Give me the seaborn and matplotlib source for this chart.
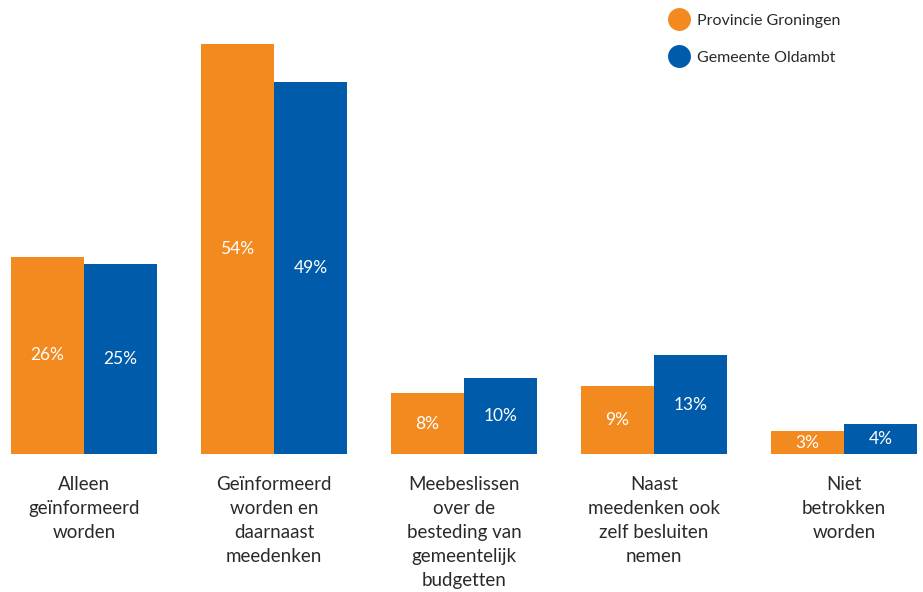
import matplotlib
matplotlib.use("Agg")
import matplotlib.pyplot as plt
from matplotlib.lines import Line2D
import seaborn as sns
import pandas as pd

categories = [
    "Alleen\ngeïnformeerd\nworden",
    "Geïnformeerd\nworden en\ndaarnaast\nmeedenken",
    "Meebeslissen\nover de\nbesteding van\ngemeentelijk\nbudgetten",
    "Naast\nmeedenken ook\nzelf besluiten\nnemen",
    "Niet\nbetrokken\nworden",
]
series_names = ["Provincie Groningen", "Gemeente Oldambt"]
provincie = [26, 54, 8, 9, 3]
oldambt = [25, 49, 10, 13, 4]
colors = ["#F28A1F", "#005BAA"]
text_color = "#2B2A2A"

df = pd.DataFrame({
    "categorie": categories * 2,
    "reeks": [series_names[0]] * len(categories) + [series_names[1]] * len(categories),
    "waarde": provincie + oldambt,
})

sns.set_style("white")
plt.rcParams["font.family"] = ["Lato", "DejaVu Sans"]

fig = plt.figure(figsize=(9.23, 5.92), dpi=100)
ax = fig.add_axes([0, 138 / 592, 1, 454 / 592])

sns.barplot(data=df, x="categorie", y="waarde", hue="reeks", order=categories,
            hue_order=series_names, palette=colors, width=0.768, saturation=1,
            ax=ax, legend=False, linewidth=0)

for cont in ax.containers:
    ax.bar_label(cont, labels=[f"{v:.0f}%" for v in cont.datavalues],
                 label_type="center", color="white", fontsize=12.5)

ax.set_xlim(-0.442, 4.416)
ax.set_ylim(0, 454 / 7.593)
ax.set_xlabel("")
ax.set_ylabel("")
ax.set_yticks([])
for s in ax.spines.values():
    s.set_visible(False)
ax.tick_params(axis="x", length=0, pad=16)
ax.set_xticks(range(len(categories)))
ax.set_xticklabels(categories, fontsize=13.5, color=text_color, linespacing=1.5,
                   va="top", ha="center")

handles = [Line2D([0], [0], marker="o", color="none", markerfacecolor=c,
                  markeredgecolor="none", markersize=16.5) for c in colors]
fig.legend(handles, series_names, loc="upper left",
           bbox_to_anchor=(652 / 923, 1 + 1 / 592), frameon=False,
           fontsize=11.5, labelcolor=text_color, handletextpad=0.3,
           labelspacing=1.45, handlelength=1.6)

fig.savefig("out.png", dpi=100)
